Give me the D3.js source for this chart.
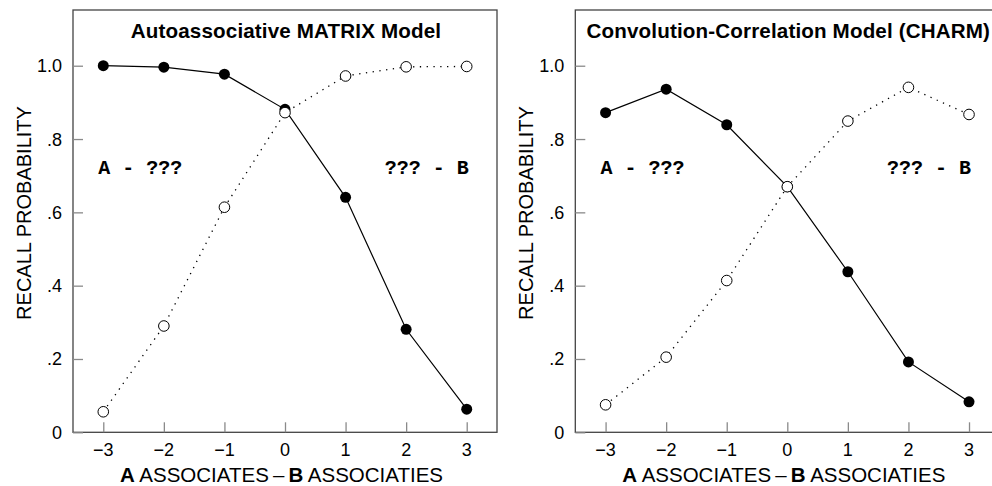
<!DOCTYPE html>
<html>
<head>
<meta charset="utf-8">
<script src="https://cdn.jsdelivr.net/npm/d3@7"></script>
<style>
  html, body { margin: 0; padding: 0; background: #fff; }
  svg { display: block; }
</style>
</head>
<body>
<svg id="chart" width="992" height="486"></svg>
<script>
// ---- data ----
const xValues = [-3, -2, -1, 0, 1, 2, 3];
const xTickLabels = ["\u22123", "\u22122", "\u22121", "0", "1", "2", "3"];
const yTickValues = [0, 0.2, 0.4, 0.6, 0.8, 1.0];
const yTickLabels = ["0", ".2", ".4", ".6", ".8", "1.0"];
const panelTitles = ["Autoassociative MATRIX Model", "Convolution-Correlation Model (CHARM)"];
const matrixAFirst = [1.0, 0.996, 0.977, 0.881, 0.641, 0.281, 0.063];   // A - ???  (filled)
const matrixBFirst = [0.056, 0.290, 0.614, 0.872, 0.972, 0.997, 0.998]; // ??? - B  (open)
const charmAFirst  = [0.872, 0.936, 0.839, 0.670, 0.438, 0.192, 0.083];
const charmBFirst  = [0.075, 0.205, 0.414, 0.670, 0.849, 0.941, 0.867];
const labelLeft = "A - ???";
const labelRight = "??? - B";
const yAxisTitle = "RECALL PROBABILITY";

const panels = [
  { title: panelTitles[0], filled: matrixAFirst, open: matrixBFirst, left: 73 },
  { title: panelTitles[1], filled: charmAFirst,  open: charmBFirst,  left: 575.3 }
];

const svg = d3.select("#chart");
const W = 424, plotTop = 10, plotBottom = 432.3;
const frameColor = "#444";
const tickColor = "#8a8a8a";
const sans = "'Liberation Sans', Arial, Helvetica, sans-serif";
const mono = "'Liberation Mono', 'Courier New', monospace";

panels.forEach(p => {
  const x = d3.scaleLinear().domain([-3.5, 3.5]).range([p.left, p.left + W]);
  const y = d3.scaleLinear().domain([0, 1.152]).range([plotBottom, plotTop]);
  const g = svg.append("g");

  // frame
  g.append("rect")
    .attr("x", x(-3.5)).attr("y", y(1.152))
    .attr("width", x(3.5) - x(-3.5)).attr("height", y(0) - y(1.152))
    .attr("fill", "none").attr("stroke", frameColor).attr("stroke-width", 1.3);

  // x axis (ticks inward)
  const xAxis = d3.axisTop(x).tickValues(xValues).tickSize(10).tickFormat("");
  const gx = g.append("g").attr("transform", `translate(0,${plotBottom})`).call(xAxis);
  gx.select(".domain").remove();
  gx.selectAll(".tick line").attr("stroke", tickColor).attr("stroke-width", 1.3);
  g.selectAll(".xlab").data(xValues).enter().append("text")
    .attr("x", d => x(d)).attr("y", plotBottom + 24)
    .attr("text-anchor", "middle")
    .attr("font-family", sans).attr("font-size", 18).attr("fill", "#000")
    .text((d, i) => xTickLabels[i]);

  // y axis (ticks inward)
  const yAxis = d3.axisRight(y).tickValues(yTickValues).tickSize(10).tickFormat("");
  const gy = g.append("g").attr("transform", `translate(${x(-3.5)},0)`).call(yAxis);
  gy.select(".domain").remove();
  gy.selectAll(".tick line").attr("stroke", tickColor).attr("stroke-width", 1.3);
  g.selectAll(".ylab").data(yTickValues).enter().append("text")
    .attr("x", x(-3.5) - 11).attr("y", d => y(d) + 6.5)
    .attr("text-anchor", "end")
    .attr("font-family", sans).attr("font-size", 18).attr("fill", "#000")
    .text((d, i) => yTickLabels[i]);

  // axis titles
  const xt = g.append("text")
    .attr("x", x(0) - 3.5).attr("y", 481.5)
    .attr("text-anchor", "middle")
    .attr("font-family", sans).attr("font-size", 20.5).attr("fill", "#000");
  xt.append("tspan").attr("font-weight", "bold").text("A");
  xt.append("tspan").text(" ASSOCIATES\u2009\u2013\u2009");
  xt.append("tspan").attr("font-weight", "bold").text("B");
  xt.append("tspan").text(" ASSOCIATIES");

  g.append("text")
    .attr("transform", `translate(${x(-3.5) - 42},213) rotate(-90)`)
    .attr("text-anchor", "middle")
    .attr("font-family", sans).attr("font-size", 20).attr("fill", "#000")
    .text(yAxisTitle);

  // panel title
  g.append("text")
    .attr("x", x(0) + 1).attr("y", 37.5)
    .attr("text-anchor", "middle")
    .attr("font-family", sans).attr("font-size", 20.6).attr("font-weight", "bold")
    .attr("letter-spacing", 0.15).attr("fill", "#000")
    .text(p.title);

  // labels
  g.append("text")
    .attr("x", x(-3) - 5).attr("y", 174)
    .attr("font-family", mono).attr("font-size", 20).attr("font-weight", "bold").attr("fill", "#000")
    .text(labelLeft);
  g.append("text")
    .attr("x", x(3) + 2).attr("y", 174).attr("text-anchor", "end")
    .attr("font-family", mono).attr("font-size", 20).attr("font-weight", "bold").attr("fill", "#000")
    .text(labelRight);

  const line = d3.line().x((d, i) => x(xValues[i])).y(d => y(d));

  // filled series
  g.append("path").datum(p.filled).attr("d", line)
    .attr("fill", "none").attr("stroke", "#000").attr("stroke-width", 1.2);
  g.selectAll(".fdot").data(p.filled).enter().append("circle")
    .attr("cx", (d, i) => x(xValues[i])).attr("cy", d => y(d)).attr("r", 5.5)
    .attr("fill", "#000");

  // open series
  g.append("path").datum(p.open).attr("d", line)
    .attr("fill", "none").attr("stroke", "#000").attr("stroke-width", 1.3)
    .attr("stroke-dasharray", "1.3,5.5");
  g.selectAll(".odot").data(p.open).enter().append("circle")
    .attr("cx", (d, i) => x(xValues[i])).attr("cy", d => y(d)).attr("r", 5.3)
    .attr("fill", "#fff").attr("stroke", "#000").attr("stroke-width", 1);
});
</script>
</body>
</html>
